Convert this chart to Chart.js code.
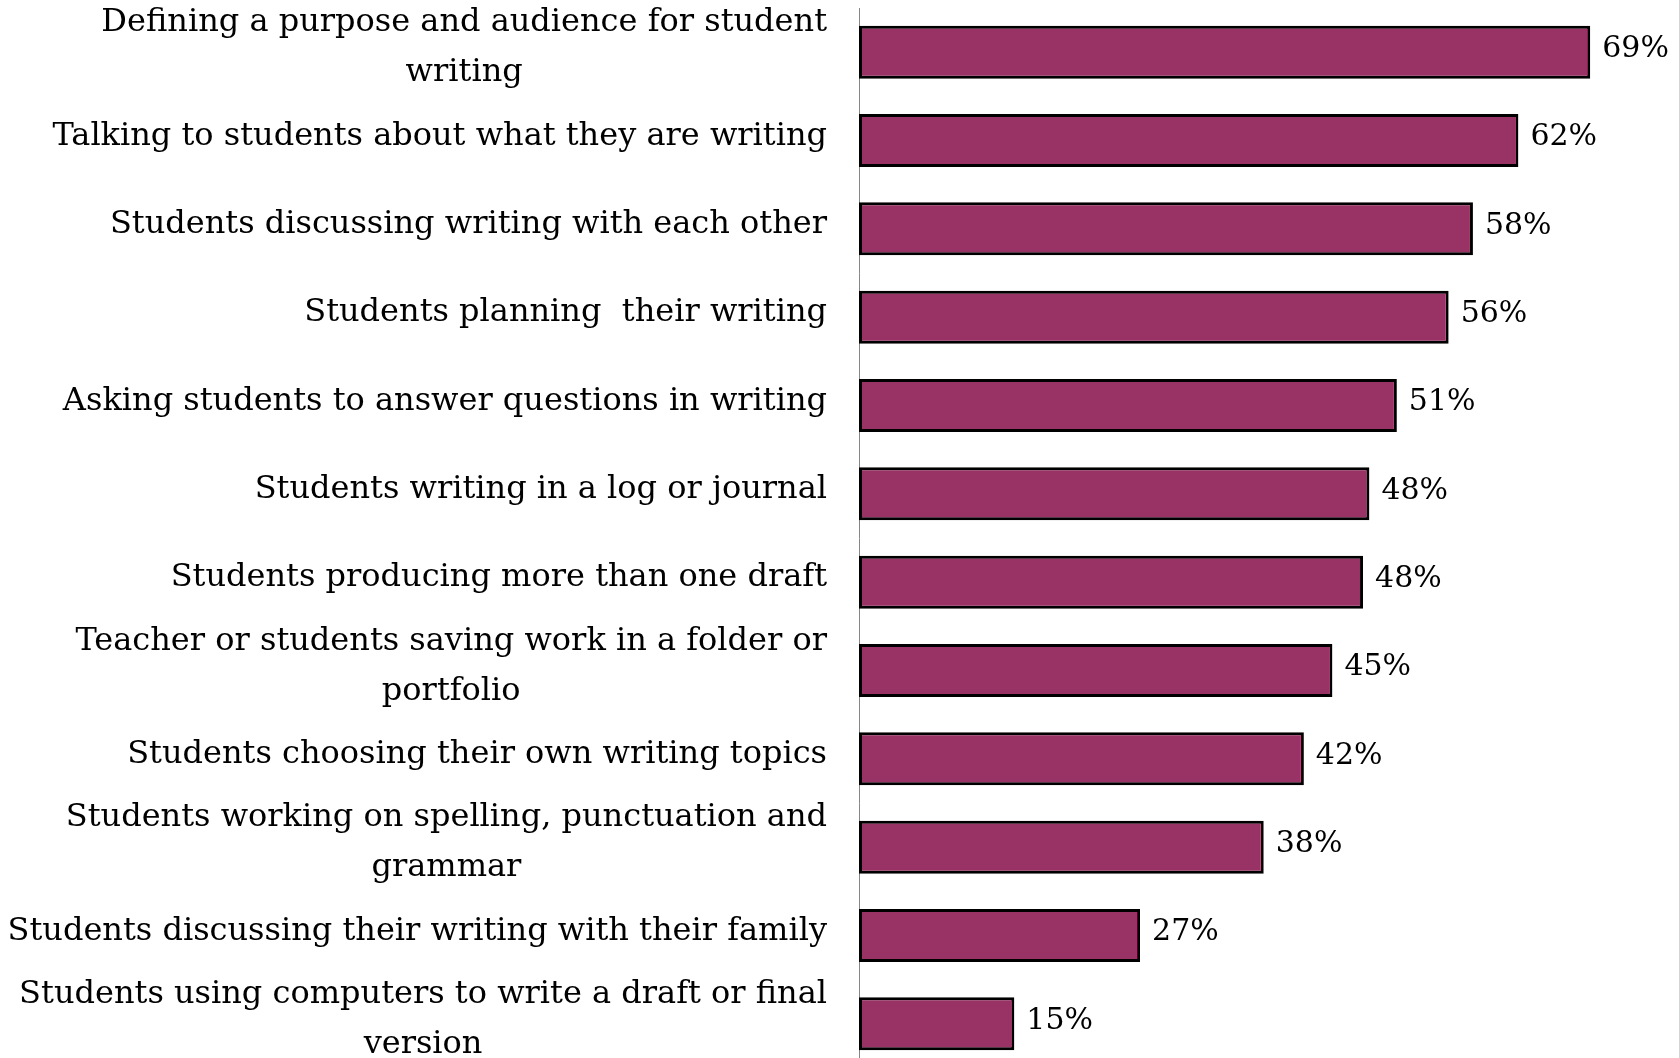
<!DOCTYPE html>
<html>
<head>
<meta charset="utf-8">
<script src="https://cdn.jsdelivr.net/npm/chart.js@4"></script>
<style>
  html,body{margin:0;padding:0;background:#fff;overflow:hidden;}
  #wrap{width:1679px;height:1070px;}
</style>
</head>
<body>
<div id="wrap"><canvas id="c" width="1679" height="1070"></canvas></div>
<script>
// Data
const labels = [
  ["Defining a purpose and audience for student","writing"],
  "Talking to students about what they are writing",
  "Students discussing writing with each other",
  "Students planning  their writing",
  "Asking students to answer questions in writing",
  "Students writing in a log or journal",
  "Students producing more than one draft",
  ["Teacher or students saving work in a folder or","portfolio"],
  "Students choosing their own writing topics",
  ["Students working on spelling, punctuation and","grammar"],
  "Students discussing their writing with their family",
  ["Students using computers to write a draft or final","version"]
];
const values = [69.2, 62.4, 58.1, 55.8, 50.9, 48.3, 47.7, 44.8, 42.1, 38.3, 26.6, 14.7];

const FONT = '"DejaVu Serif", serif';
const LABEL_SIZE = 32;
const AXIS_X = 859;     // where the category axis sits
const LABEL_GAP = 32;   // label block right edge -> axis

// draws the category labels: block right aligned, lines centered inside the block
const catLabels = {
  id: "catLabels",
  afterDraw(chart){
    const ctx = chart.ctx, y = chart.scales.y;
    ctx.save();
    ctx.font = LABEL_SIZE + "px " + FONT;
    ctx.fillStyle = "#000";
    ctx.textBaseline = "middle";
    ctx.textAlign = "center";
    const lh = 50;
    labels.forEach((lab, i) => {
      const lines = Array.isArray(lab) ? lab : [lab];
      const w = Math.max(...lines.map(l => ctx.measureText(l).width));
      const right = chart.chartArea.left - LABEL_GAP;
      const cx = right - w/2;
      const cy = y.getPixelForTick(i) - 4;
      const y0 = cy - (lines.length-1)*lh/2;
      lines.forEach((l, k) => ctx.fillText(l, cx, y0 + k*lh));
    });
    ctx.restore();
  }
};

// value labels at the end of every bar
const valueLabels = {
  id: "valueLabels",
  afterDatasetsDraw(chart){
    const ctx = chart.ctx;
    const meta = chart.getDatasetMeta(0);
    ctx.save();
    ctx.font = "30px " + FONT;
    ctx.fillStyle = "#000";
    ctx.textBaseline = "middle";
    ctx.textAlign = "left";
    meta.data.forEach((bar, i) => {
      ctx.fillText(Math.round(values[i]) + "%", bar.x + 12, bar.y - 3);
    });
    ctx.restore();
  }
};

new Chart(document.getElementById("c"), {
  type: "bar",
  data: {
    labels,
    datasets: [{
      data: values,
      backgroundColor: "#993366",
      borderColor: "#000",
      borderWidth: 3,
      borderSkipped: false,
      categoryPercentage: 1,
      barPercentage: 0.6
    }]
  },
  options: {
    indexAxis: "y",
    responsive: false,
    animation: false,
    layout: { padding: { top: 8, bottom: 2, left: 0, right: 0 } },
    plugins: { legend: { display: false }, tooltip: { enabled: false } },
    scales: {
      x: { display: false, min: 0, max: 77.6 },
      y: {
        grid: { display: false, drawTicks: false },
        border: { display: true, color: "#868686", width: 1 },
        ticks: { display: false },
        afterFit(scale){ scale.width = AXIS_X; }
      }
    }
  },
  plugins: [catLabels, valueLabels]
});
</script>
</body>
</html>
